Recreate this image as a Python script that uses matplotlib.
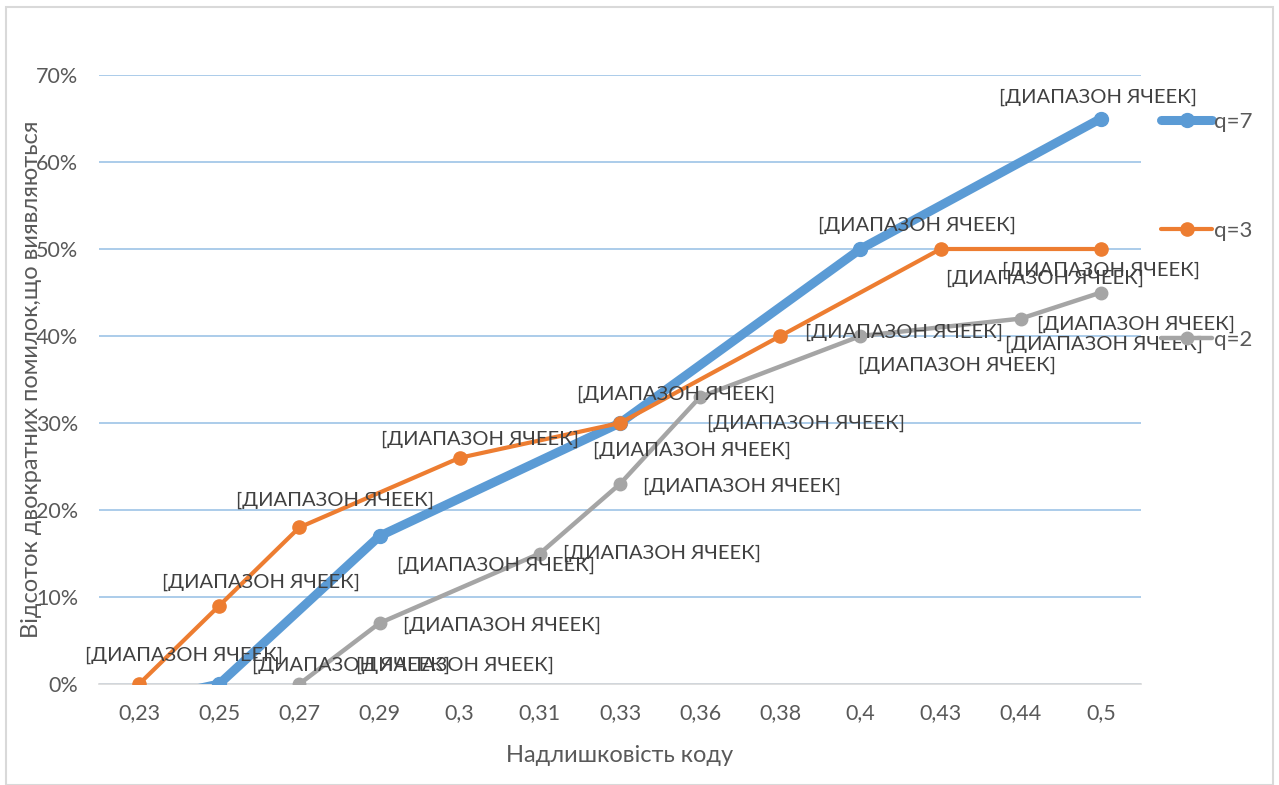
import numpy as np
import matplotlib
matplotlib.use("Agg")
import matplotlib.pyplot as plt
from matplotlib.patches import Rectangle

# ------------ DATA -------------
categories = ["0,23", "0,25", "0,27", "0,29", "0,3", "0,31", "0,33",
              "0,36", "0,38", "0,4", "0,43", "0,44", "0,5"]
nan = np.nan
q7 = [-0.02, 0.00, nan, 0.17, nan, nan, 0.30, nan, nan, 0.50, nan, nan, 0.65]
q3 = [0.00, 0.09, 0.18, nan, 0.26, nan, 0.30, nan, 0.40, nan, 0.50, nan, 0.50]
q2 = [nan, nan, 0.00, 0.07, nan, 0.15, 0.23, 0.33, nan, 0.40, nan, 0.42, 0.45]
series_names = ["q=7", "q=3", "q=2"]
label_text = "[ДИАПАЗОН ЯЧЕЕК]"
y_label = "Відсоток двократних помилок,що виявляються"
x_label = "Надлишковість коду"
# --------------------------------

# label offsets (pixels) per plotted point, positions fixed by hand in the original
offsets_q7 = [None, (132, 19), (116, -29), (72, -27), (57, 24), (-3, 21)]
offsets_q3 = [(45, 29), (42, 23), (36, 27), (20, 18), (56, 29), (124, 4), (104, -29), (0, -21)]
offsets_q2 = [(156, 19), (122, -2), (122, 0), (122, -2), (106, -26), (97, -29), (83, -26), (35, -32)]

FONT = ["Lato", "DejaVu Sans"]
TXT = "#595959"

W, H = 1279, 785
fig = plt.figure(figsize=(W / 100, H / 100), dpi=100)
fig.patches.append(Rectangle((6 / W, 0), 1267 / W, 1 - 7 / H, transform=fig.transFigure,
                             fill=False, edgecolor="#d9d9d9", linewidth=1.5))
ax = fig.add_axes([99 / W, 101 / H, 1042 / W, 609 / H])

x = np.arange(len(categories))

styles = [
    dict(color="#5B9BD5", lw=6.5, ms=10),
    dict(color="#ED7D31", lw=3.0, ms=9.5),
    dict(color="#A5A5A5", lw=3.2, ms=9),
]
all_offsets = [offsets_q7, offsets_q3, offsets_q2]

for vals, name, st, offs in zip([q7, q3, q2], series_names, styles, all_offsets):
    v = np.array(vals, dtype=float)
    m = ~np.isnan(v)
    ax.plot(x[m], v[m], color=st["color"], lw=st["lw"], marker="o", ms=st["ms"],
            solid_capstyle="round", label=name, zorder=3)
    for xi, yi, off in zip(x[m], v[m], offs):
        if off is None:
            continue
        ax.annotate(label_text, (xi, yi), xytext=off, textcoords="offset pixels",
                    ha="center", va="center", fontsize=14.5, color="#404040",
                    family=FONT, zorder=4, annotation_clip=False)

ax.set_xlim(-0.5, len(categories) - 0.5)
ax.set_ylim(0, 0.7)
ax.set_yticks(np.arange(0, 0.71, 0.1))
ax.set_yticklabels([f"{int(round(t * 100))}%" for t in np.arange(0, 0.71, 0.1)])
ax.set_xticks(x)
ax.set_xticklabels(categories)
for lab in ax.get_xticklabels() + ax.get_yticklabels():
    lab.set_family(FONT)
    lab.set_fontsize(15.5)
    lab.set_color(TXT)
ax.tick_params(length=0)
ax.tick_params(axis="x", pad=14)
ax.tick_params(axis="y", pad=15)

ax.grid(axis="y", color="#9DC3E6", lw=1.2)
ax.set_axisbelow(True)
for s in ["top", "right", "left"]:
    ax.spines[s].set_visible(False)
ax.spines["bottom"].set_color("#d9d9d9")
ax.spines["bottom"].set_linewidth(1.2)

fig.text(32 / W, 1 - 379 / H, y_label, rotation=90, ha="center", va="center",
         fontsize=17, color=TXT, family=FONT)
fig.text(620 / W, 1 - 755 / H, x_label, ha="center", va="center",
         fontsize=17, color=TXT, family=FONT)

leg = fig.legend(loc="upper left", bbox_to_anchor=(1141 / W, 1 - 92 / H), frameon=False,
                 labelspacing=4.0, handlelength=2.3, handletextpad=0.1,
                 prop={"family": FONT, "size": 16})
for t in leg.get_texts():
    t.set_color(TXT)

fig.savefig("out.png", dpi=100)
